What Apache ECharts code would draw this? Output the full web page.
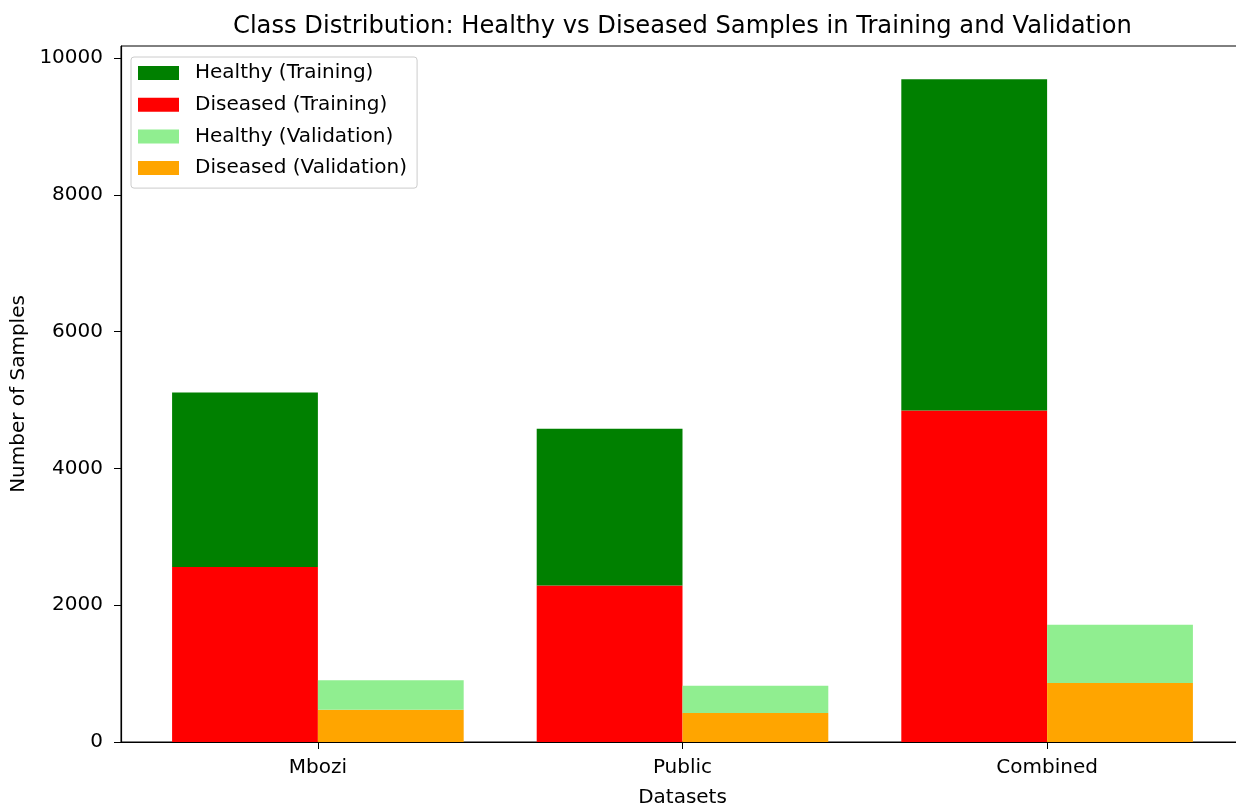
<!DOCTYPE html>
<html>
<head>
<meta charset="utf-8">
<script src="https://cdn.jsdelivr.net/npm/echarts@6/dist/echarts.min.js"></script>
<style>
html,body{margin:0;padding:0;background:#fff;}
#chart{width:1236px;height:805px;}
</style>
</head>
<body>
<div id="chart"></div>
<script>
const categories = ['Mbozi', 'Public', 'Combined'];
const healthyTraining = [2553, 2290, 4845];
const diseasedTraining = [2558, 2290, 4848];
const healthyValidation = [431, 399, 853];
const diseasedValidation = [472, 424, 862];
const yTicks = [0, 2000, 4000, 6000, 8000, 10000];

const FONT = 'DejaVu Sans';
// value first, category index second (encoded as y / x)
const toPts = arr => arr.map((v, i) => [v, i]);
const catIdx = categories.map((c, i) => i);

const chart = echarts.init(document.getElementById('chart'), null, {renderer: 'canvas'});
const common = {type: 'bar', barWidth: 145.8, barGap: '0%', encode: {x: 1, y: 0}};

chart.setOption({
  animation: false,
  backgroundColor: '#ffffff',
  title: {
    text: 'Class Distribution: Healthy vs Diseased Samples in Training and Validation',
    left: 228, top: 10,
    textStyle: {fontFamily: FONT, fontSize: 24.2, fontWeight: 'normal', color: '#000'}
  },
  grid: {left: 121, right: -8, top: 46, bottom: 63, outerBoundsMode: 'none', containLabel: false,
         show: true, borderColor: '#000', borderWidth: 1, backgroundColor: 'transparent'},
  legend: {
    orient: 'vertical', left: 131, top: 57,
    padding: [5, 10, 9, 7],
    itemWidth: 41, itemHeight: 14, itemGap: 9.7,
    icon: 'rect',
    backgroundColor: 'rgba(255,255,255,0.8)',
    borderColor: '#cccccc', borderWidth: 1, borderRadius: 3,
    textStyle: {fontFamily: FONT, fontSize: 20, color: '#000', lineHeight: 22, padding: [0, 0, 0, 11]},
    data: ['Healthy (Training)', 'Diseased (Training)', 'Healthy (Validation)', 'Diseased (Validation)']
  },
  xAxis: {
    type: 'value', min: -0.54, max: 2.54,
    name: 'Datasets', nameLocation: 'middle', nameGap: 46,
    nameTextStyle: {fontFamily: FONT, fontSize: 20, color: '#000'},
    axisLine: {show: true, onZero: false, lineStyle: {color: '#000', width: 1.2}},
    axisTick: {show: true, length: 7, customValues: catIdx, lineStyle: {color: '#000'}},
    axisLabel: {customValues: catIdx, margin: 16, formatter: v => categories[Math.round(v)], fontFamily: FONT, fontSize: 20, color: '#000'},
    splitLine: {show: false}
  },
  yAxis: {
    type: 'value', min: 0, max: 10178,
    name: 'Number of Samples', nameLocation: 'middle', nameGap: 82,
    nameTextStyle: {fontFamily: FONT, fontSize: 20, color: '#000'},
    axisLine: {show: true, onZero: false, lineStyle: {color: '#000', width: 1.2}},
    axisTick: {show: true, length: 7, customValues: yTicks, lineStyle: {color: '#000'}},
    axisLabel: {customValues: yTicks, margin: 18, formatter: v => String(v), fontFamily: FONT, fontSize: 20, color: '#000'},
    splitLine: {show: false}
  },
  series: [
    Object.assign({}, common, {name: 'Diseased (Training)', stack: 'train', data: toPts(diseasedTraining), itemStyle: {color: '#ff0000'}}),
    Object.assign({}, common, {name: 'Healthy (Training)', stack: 'train', data: toPts(healthyTraining), itemStyle: {color: '#008000'}}),
    Object.assign({}, common, {name: 'Diseased (Validation)', stack: 'val', data: toPts(diseasedValidation), itemStyle: {color: '#ffa500'}}),
    Object.assign({}, common, {name: 'Healthy (Validation)', stack: 'val', data: toPts(healthyValidation), itemStyle: {color: '#90ee90'}})
  ]
});
</script>
</body>
</html>
